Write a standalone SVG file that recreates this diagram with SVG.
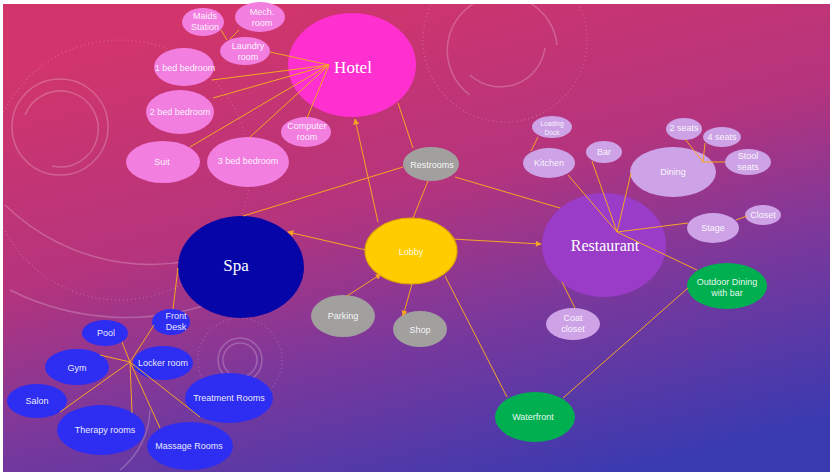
<svg xmlns="http://www.w3.org/2000/svg" width="830" height="472" viewBox="0 0 830 472">
<defs>
<linearGradient id="bg" x1="0.3" y1="0" x2="0.75" y2="1">
<stop offset="0" stop-color="#D2356B"/>
<stop offset="0.4" stop-color="#B5347D"/>
<stop offset="0.66" stop-color="#7C389B"/>
<stop offset="1" stop-color="#3A3AB0"/>
</linearGradient>
<marker id="ah" viewBox="0 0 10 10" refX="9" refY="5" markerWidth="6" markerHeight="6" orient="auto" markerUnits="userSpaceOnUse">
<path d="M0,0 L10,5 L0,10 z" fill="#F5A623"/>
</marker>
<style>
.deco{fill:none;stroke:#FFFFFF;stroke-opacity:0.22;stroke-width:1.5}
.dots{fill:none;stroke:#FFFFFF;stroke-opacity:0.22;stroke-width:1.2;stroke-dasharray:1 3}
.c{stroke:#F5A623;stroke-width:1;fill:none}
.ca{stroke:#F5A623;stroke-width:1;fill:none;marker-end:url(#ah)}
.t{font-family:"Liberation Sans",Arial,sans-serif;font-size:9px;fill:#FFFFFF;fill-opacity:0.92;text-anchor:middle;dominant-baseline:central}
.ts{font-family:"Liberation Sans",Arial,sans-serif;font-size:6.5px;fill:#FFFFFF;fill-opacity:0.9;text-anchor:middle;dominant-baseline:central}
.big{font-family:"Liberation Serif","Times New Roman",serif;font-size:17px;fill:#FFFFFF;text-anchor:middle;dominant-baseline:central}
.hotel{fill:#FF2FD0}
.hsub{fill:#F27EE0}
.gray{fill:#A2A09F}
.lobby{fill:#FFCC00;stroke:#E0A600;stroke-width:1.2}
.spa{fill:#0505A8}
.ssub{fill:#2E2EF2}
.rest{fill:#9A3CC8}
.rsub{fill:#CDA2E6}
.green{fill:#00B050}
</style>
</defs>
<rect x="0" y="0" width="830" height="472" fill="#FFFFFF"/>
<rect x="3" y="4" width="827" height="468" fill="url(#bg)"/>
<g id="decor">
<path class="deco" d="M470,95 A55,55 0 1 1 557,45"/>
<path class="deco" d="M545,48 A45,45 0 0 1 470,75"/>
<circle class="dots" cx="505" cy="40" r="82"/>
<circle class="deco" cx="60" cy="127" r="48"/>
<path class="deco" d="M25,115 A38,38 0 1 1 52,166"/>
<circle class="dots" cx="120" cy="170" r="130"/>
<path class="deco" d="M5,205 A210,210 0 0 0 250,240"/>
<path class="deco" d="M10,290 A260,260 0 0 0 220,300"/>
<circle class="deco" cx="240" cy="360" r="22"/>
<circle class="deco" cx="240" cy="360" r="17"/>
<circle class="dots" cx="240" cy="360" r="42"/>
<path class="deco" d="M150,410 A80,80 0 0 1 120,470"/>
</g>
<g id="nodes">
<g id="hotel"><ellipse class="hotel" cx="352" cy="65" rx="64" ry="52"/><text class="big" x="353" y="67">Hotel</text></g>
<g id="maids"><ellipse class="hsub" cx="203" cy="22" rx="21" ry="14"/><text class="t" x="205" y="16">Maids</text><text class="t" x="205" y="27">Station</text></g>
<g id="mech"><ellipse class="hsub" cx="260" cy="17" rx="25" ry="15"/><text class="t" x="262" y="12">Mech.</text><text class="t" x="262" y="23">room</text></g>
<g id="laundry"><ellipse class="hsub" cx="245" cy="51" rx="25" ry="14"/><text class="t" x="248" y="46">Laundry</text><text class="t" x="248" y="57">room</text></g>
<g id="bed1"><ellipse class="hsub" cx="184" cy="67" rx="30" ry="19"/><text class="t" x="185" y="68">1 bed bedroom</text></g>
<g id="bed2"><ellipse class="hsub" cx="180" cy="112" rx="34" ry="22"/><text class="t" x="180" y="112">2 bed bedroom</text></g>
<g id="suit"><ellipse class="hsub" cx="163" cy="162" rx="37" ry="21"/><text class="t" x="162" y="162">Suit</text></g>
<g id="bed3"><ellipse class="hsub" cx="248" cy="162" rx="41" ry="25"/><text class="t" x="248" y="161">3 bed bedroom</text></g>
<g id="computer"><ellipse class="hsub" cx="306" cy="132" rx="25" ry="15"/><text class="t" x="307" y="126">Computer</text><text class="t" x="307" y="137">room</text></g>
<g id="restrooms"><ellipse class="gray" cx="431" cy="164" rx="28" ry="17"/><text class="t" x="432" y="165">Restrooms</text></g>
<g id="lobby"><ellipse class="lobby" cx="411" cy="251" rx="46" ry="33"/><text class="t" x="411" y="252">Lobby</text></g>
<g id="parking"><ellipse class="gray" cx="343" cy="316" rx="32" ry="21"/><text class="t" x="343" y="316">Parking</text></g>
<g id="shop"><ellipse class="gray" cx="420" cy="329" rx="27" ry="18"/><text class="t" x="420" y="330">Shop</text></g>
<g id="spa"><ellipse class="spa" cx="241" cy="267" rx="63" ry="51"/><text class="big" x="236" y="265">Spa</text></g>
<g id="frontdesk"><ellipse class="ssub" cx="171" cy="322" rx="19" ry="13"/><text class="t" x="176" y="316">Front</text><text class="t" x="176" y="327">Desk</text></g>
<g id="pool"><ellipse class="ssub" cx="105" cy="333" rx="23" ry="13"/><text class="t" x="106" y="333">Pool</text></g>
<g id="gym"><ellipse class="ssub" cx="77" cy="367" rx="32" ry="18"/><text class="t" x="77" y="368">Gym</text></g>
<g id="locker"><ellipse class="ssub" cx="163" cy="363" rx="30" ry="17"/><text class="t" x="163" y="363">Locker room</text></g>
<g id="salon"><ellipse class="ssub" cx="37" cy="401" rx="30" ry="17"/><text class="t" x="37" y="401">Salon</text></g>
<g id="treatment"><ellipse class="ssub" cx="229" cy="398" rx="44" ry="25"/><text class="t" x="229" y="398">Treatment Rooms</text></g>
<g id="therapy"><ellipse class="ssub" cx="101" cy="430" rx="44" ry="25"/><text class="t" x="105" y="430">Therapy rooms</text></g>
<g id="massage"><ellipse class="ssub" cx="190" cy="446" rx="43" ry="24"/><text class="t" x="189" y="446">Massage Rooms</text></g>
<g id="restaurant"><ellipse class="rest" cx="604" cy="245" rx="62" ry="52"/><text class="big" x="605" y="245" style="font-size:16px">Restaurant</text></g>
<g id="loading"><ellipse class="rsub" cx="552" cy="127" rx="20" ry="11"/><text class="ts" x="552" y="123">Loading</text><text class="ts" x="552" y="132">Dock</text></g>
<g id="kitchen"><ellipse class="rsub" cx="549" cy="163" rx="26" ry="15"/><text class="t" x="549" y="163">Kitchen</text></g>
<g id="bar"><ellipse class="rsub" cx="604" cy="152" rx="18" ry="11"/><text class="t" x="604" y="152">Bar</text></g>
<g id="dining"><ellipse class="rsub" cx="673" cy="172" rx="43" ry="25"/><text class="t" x="673" y="172">Dining</text></g>
<g id="seats2"><ellipse class="rsub" cx="684" cy="129" rx="18" ry="11"/><text class="t" x="684" y="128">2 seats</text></g>
<g id="seats4"><ellipse class="rsub" cx="722" cy="137" rx="19" ry="10"/><text class="t" x="722" y="137">4 seats</text></g>
<g id="stool"><ellipse class="rsub" cx="748" cy="162" rx="23" ry="13"/><text class="t" x="748" y="156">Stool</text><text class="t" x="748" y="167">seats</text></g>
<g id="stage"><ellipse class="rsub" cx="713" cy="228" rx="26" ry="15"/><text class="t" x="713" y="228">Stage</text></g>
<g id="closet"><ellipse class="rsub" cx="763" cy="215" rx="18" ry="10"/><text class="t" x="763" y="215">Closet</text></g>
<g id="coatcloset"><ellipse class="rsub" cx="573" cy="324" rx="27" ry="16"/><text class="t" x="573" y="318">Coat</text><text class="t" x="573" y="329">closet</text></g>
<g id="outdoor"><ellipse class="green" cx="727" cy="286" rx="40" ry="23"/><text class="t" x="727" y="282">Outdoor Dining</text><text class="t" x="727" y="293">with bar</text></g>
<g id="waterfront"><ellipse class="green" cx="535" cy="417" rx="40" ry="25"/><text class="t" x="533" y="417">Waterfront</text></g>
</g>
<g id="connectors">
<line class="c" x1="329" y1="65" x2="270" y2="52"/>
<line class="c" x1="329" y1="65" x2="212" y2="80"/>
<line class="c" x1="329" y1="65" x2="213" y2="98"/>
<line class="c" x1="329" y1="65" x2="190" y2="147"/>
<line class="c" x1="329" y1="65" x2="250" y2="137"/>
<line class="c" x1="329" y1="65" x2="307" y2="118"/>
<line class="c" x1="221" y1="30" x2="227" y2="40"/>
<line class="c" x1="239" y1="30" x2="230" y2="39"/>
<line class="ca" x1="378" y1="222" x2="355" y2="119"/>
<line class="c" x1="413" y1="148" x2="398" y2="103"/>
<line class="c" x1="403" y1="167" x2="243" y2="216"/>
<line class="c" x1="455" y1="177" x2="560" y2="208"/>
<line class="c" x1="428" y1="181" x2="413" y2="218"/>
<line class="ca" x1="366" y1="250" x2="288" y2="232"/>
<line class="ca" x1="452" y1="239" x2="541" y2="244"/>
<line class="ca" x1="347" y1="296" x2="381" y2="274"/>
<line class="ca" x1="412" y1="284" x2="403" y2="316"/>
<line class="c" x1="445" y1="276" x2="507" y2="397"/>
<line class="c" x1="178" y1="268" x2="173" y2="309"/>
<line class="c" x1="130" y1="362" x2="154" y2="325"/>
<line class="c" x1="130" y1="362" x2="122" y2="342"/>
<line class="c" x1="130" y1="362" x2="100" y2="355"/>
<line class="c" x1="130" y1="362" x2="60" y2="412"/>
<line class="c" x1="130" y1="362" x2="132" y2="413"/>
<line class="c" x1="130" y1="362" x2="160" y2="428"/>
<line class="c" x1="130" y1="362" x2="200" y2="417"/>
<line class="c" x1="617" y1="232" x2="568" y2="175"/>
<line class="c" x1="617" y1="232" x2="592" y2="161"/>
<line class="c" x1="617" y1="232" x2="631" y2="173"/>
<line class="c" x1="617" y1="232" x2="688" y2="223"/>
<line class="c" x1="617" y1="232" x2="697" y2="270"/>
<line class="c" x1="562" y1="282" x2="575" y2="308"/>
<line class="c" x1="531" y1="151" x2="538" y2="137"/>
<line class="c" x1="703" y1="162" x2="685" y2="139"/>
<line class="c" x1="703" y1="162" x2="705" y2="143"/>
<line class="c" x1="703" y1="162" x2="725" y2="162"/>
<line class="c" x1="736" y1="220" x2="747" y2="216"/>
<line class="c" x1="688" y1="288" x2="563" y2="398"/>
</g>
</svg>
